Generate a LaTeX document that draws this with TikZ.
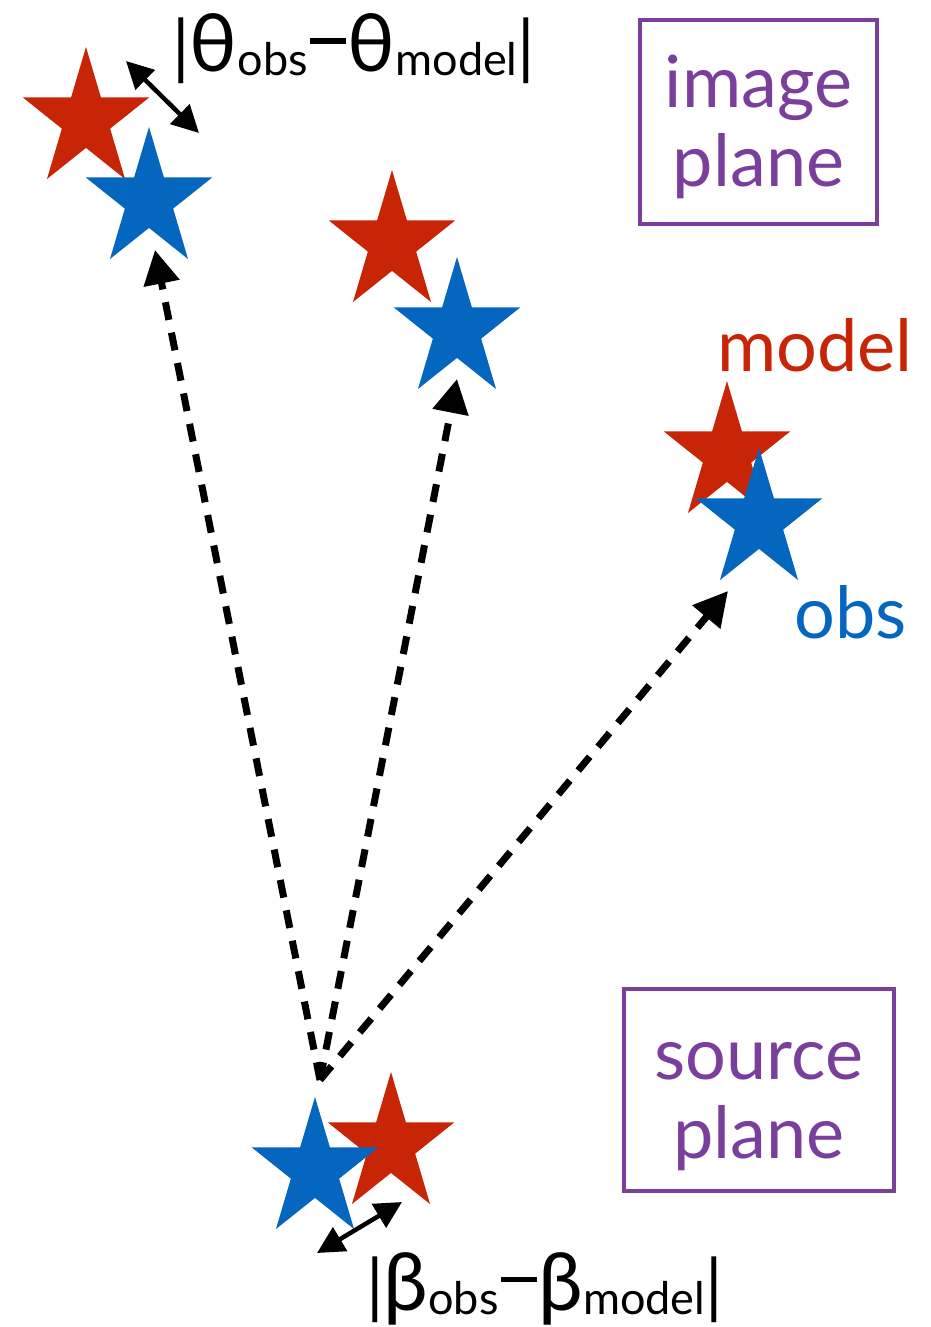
\documentclass[tikz,border=0pt]{standalone}
\usepackage{fontspec}
\setmainfont{Lato}
\usetikzlibrary{arrows.meta}
\definecolor{starred}{RGB}{200,37,6}
\definecolor{starblue}{RGB}{5,102,192}
\definecolor{planepurple}{RGB}{122,63,157}
\newcommand\lsub[1]{\raisebox{-4pt}{\fontsize{45}{45}\selectfont #1}}
\newcommand\bigsym[1]{{\fontsize{80}{80}\selectfont #1}}
\newcommand\mminus{\makebox[40pt]{\rule[28pt]{36pt}{5.5pt}}}
\tikzset{
  pics/fivestar/.style={code={
    \fill[#1, xscale=0.91] (270:73) -- (306:27.9) -- (342:73) -- (18:27.9) -- (54:73) -- (90:27.9)
      -- (126:73) -- (162:27.9) -- (198:73) -- (234:27.9) -- cycle;}},
  planebox/.style={draw=planepurple, line width=4pt, inner sep=0pt},
  planetext/.style={text=planepurple, inner sep=0pt, align=center, font=\fontsize{72}{79}\selectfont},
  eqlabel/.style={inner sep=0pt, font=\fontsize{70}{70}\selectfont},
  tag/.style={inner sep=0pt, font=\fontsize{72}{72}\selectfont},
  ray/.style={line width=7pt, dash pattern=on 18pt off 13pt, arrows={-Triangle[length=34pt,width=35pt]}},
  separrow/.style={line width=4.5pt, arrows={Triangle[length=27pt,width=27pt]-Triangle[length=27pt,width=27pt]}}
}
\begin{document}
\begin{tikzpicture}[x=1pt,y=-1pt]
\useasboundingbox (0,0) rectangle (930,1327);
% image-plane stars: model (red) behind, obs (blue) in front
\pic at (86,120) {fivestar=starred};
\pic at (149,200) {fivestar=starblue};
\pic at (392,243) {fivestar=starred};
\pic at (457,330) {fivestar=starblue};
\pic at (727,454) {fivestar=starred};
\pic at (759,521) {fivestar=starblue};
% source-plane stars
\pic at (391,1145) {fivestar=starred};
\pic at (315,1170) {fivestar=starblue};
% rays
\coordinate (src) at (320,1080);
\coordinate (imgA) at (155,250);
\coordinate (imgB) at (457,379);
\coordinate (imgC) at (728,591);
\draw[ray] (src) -- (imgA);
\draw[ray] (src) -- (imgB);
\draw[ray] (src) -- (imgC);
% separation arrows
\coordinate (thA) at (126,61);
\coordinate (thB) at (199,133);
\draw[separrow] (thA) -- (thB);
\coordinate (beA) at (317,1253);
\coordinate (beB) at (402,1202);
\draw[separrow] (beA) -- (beB);
% labels
\node[eqlabel, anchor=base west] (thetadiff) at (172,72) {|\bigsym{θ}\lsub{obs}\mminus\bigsym{θ}\lsub{model}|};
\node[eqlabel, anchor=base west] (betadiff) at (366,1310) {|\bigsym{β}\lsub{obs}\mminus\bigsym{β}\lsub{model}|};
\node[tag, text=starred, anchor=base west] (modellbl) at (717,371) {model};
\node[tag, text=starblue, anchor=base west] (obslbl) at (794,638) {obs};
% plane boxes
\node[planebox, minimum width=237pt, minimum height=204pt] (imgbox) at (758.5,122) {};
\node[planetext] (imgtxt) at (758.5,127) {image\\plane};
\node[planebox, minimum width=270pt, minimum height=202pt] (srcbox) at (759,1090) {};
\node[planetext] (srctxt) at (759,1107) {source\\plane};
\end{tikzpicture}
\end{document}
